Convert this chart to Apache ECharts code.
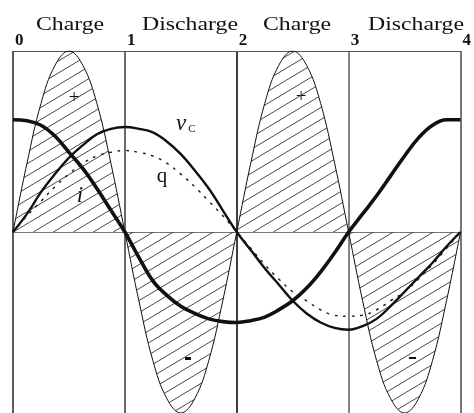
<!DOCTYPE html>
<html>
<head>
<meta charset="utf-8">
<script src="https://cdn.jsdelivr.net/npm/echarts@6/dist/echarts.min.js"></script>
<style>
  html, body { margin: 0; padding: 0; background: #fff; }
  #main { width: 474px; height: 413px; }
</style>
</head>
<body>
<div id="main"></div>
<script>
// time in quarter periods (0..4), sampled every 1/8
var xs = [0, 0.125, 0.25, 0.375, 0.5, 0.625, 0.75, 0.875,
          1, 1.125, 1.25, 1.375, 1.5, 1.625, 1.75, 1.875,
          2, 2.125, 2.25, 2.375, 2.5, 2.625, 2.75, 2.875,
          3, 3.125, 3.25, 3.375, 3.5, 3.625, 3.75, 3.875, 4];
// power p (hatched)
var pVals = [0, 0.38, 0.71, 0.92, 1, 0.92, 0.71, 0.38,
             0, -0.38, -0.71, -0.92, -1, -0.92, -0.71, -0.38,
             0, 0.38, 0.71, 0.92, 1, 0.92, 0.71, 0.38,
             0, -0.38, -0.71, -0.92, -1, -0.92, -0.71, -0.38, 0];
// current i (thick line)
var iVals = [0.62, 0.615, 0.59, 0.53, 0.44, 0.35, 0.24, 0.12,
             0, -0.14, -0.27, -0.35, -0.41, -0.45, -0.48, -0.495,
             -0.50, -0.49, -0.47, -0.43, -0.38, -0.31, -0.22, -0.115,
             0, 0.10, 0.20, 0.31, 0.42, 0.52, 0.59, 0.62, 0.62];
// capacitor voltage vC
var vVals = [0, 0.10, 0.22, 0.32, 0.41, 0.48, 0.54, 0.57,
             0.58, 0.57, 0.55, 0.50, 0.43, 0.34, 0.24, 0.12,
             0, -0.10, -0.20, -0.29, -0.38, -0.45, -0.50, -0.53,
             -0.54, -0.52, -0.48, -0.41, -0.33, -0.25, -0.17, -0.08, 0];
// charge q (dotted)
var qVals = [0, 0.09, 0.17, 0.25, 0.32, 0.38, 0.42, 0.44,
             0.45, 0.44, 0.42, 0.38, 0.32, 0.25, 0.17, 0.09,
             0, -0.09, -0.18, -0.26, -0.33, -0.38, -0.43, -0.46,
             -0.465, -0.46, -0.43, -0.38, -0.33, -0.26, -0.18, -0.09, 0];
var tickLabels = ['0', '1', '2', '3', '4'];
var phases = ['Charge', 'Discharge', 'Charge', 'Discharge'];

var pairs = function(vals) {
  return xs.map(function(x, k) { return [x, vals[k]]; });
};

// hatch tile
var hatch = document.createElement('canvas');
hatch.width = 20;
hatch.height = 12;
var hc = hatch.getContext('2d');
hc.strokeStyle = '#333';
hc.lineWidth = 0.9;
[-20, 0, 20].forEach(function(off) {
  hc.beginPath();
  hc.moveTo(off - 20, 24);
  hc.lineTo(off + 40, -12);
  hc.stroke();
});

var serif = '"Times New Roman", "Liberation Serif", Tinos, serif';
var phaseX = [70, 190, 297, 416];

var myChart = echarts.init(document.getElementById('main'));
var option = {
  animation: false,
  grid: { left: 13, right: 8, top: 51, bottom: 0 },
  xAxis: [{
    type: 'value', min: 0, max: 4, interval: 1,
    axisLine: { show: true, onZero: true, lineStyle: { color: '#777', width: 1 } },
    axisTick: { show: false },
    axisLabel: { show: false },
    splitLine: { show: true, lineStyle: { color: ['#333', '#444', '#111', '#666', '#555'], width: 1.6 } }
  }, {
    type: 'value', min: 0, max: 4, interval: 1, position: 'top',
    axisLine: { show: true, onZero: false, lineStyle: { color: '#555', width: 1 } },
    axisTick: { show: false },
    splitLine: { show: false },
    axisLabel: {
      show: true, showMinLabel: true, showMaxLabel: true,
      align: 'left', margin: 2,
      fontFamily: serif, fontWeight: 'bold', fontSize: 17, color: '#111',
      padding: [0, 0, 0, 2],
      formatter: function(v) { return tickLabels[Math.round(v)]; }
    }
  }],
  yAxis: {
    type: 'value', min: -1, max: 1,
    axisLine: { show: false }, axisTick: { show: false },
    axisLabel: { show: false }, splitLine: { show: false }
  },
  series: [{
    type: 'line', data: pairs(pVals), smooth: 0.4, showSymbol: false,
    lineStyle: { color: '#111', width: 1 },
    areaStyle: { color: { image: hatch, repeat: 'repeat' }, opacity: 1 }
  }, {
    type: 'line', data: pairs(qVals), smooth: 0.4, showSymbol: false,
    lineStyle: { color: '#222', width: 1.5, type: [1.5, 7], cap: 'round' }
  }, {
    type: 'line', data: pairs(vVals), smooth: 0.4, showSymbol: false,
    lineStyle: { color: '#111', width: 2.4 }
  }, {
    type: 'line', data: pairs(iVals), smooth: 0.4, showSymbol: false,
    lineStyle: { color: '#111', width: 3.6 }
  }],
  graphic: phases.map(function(t, k) {
    return {
      type: 'text', x: phaseX[k], y: 25, scaleX: 1.25, originX: 0,
      style: { text: t, font: '19px ' + serif, fill: '#111', align: 'center', verticalAlign: 'middle' }
    };
  }).concat([
    { type: 'text', x: 181, y: 124, style: { text: 'v', font: 'italic 23px ' + serif, fill: '#111', align: 'center', verticalAlign: 'middle' } },
    { type: 'text', x: 192, y: 129, style: { text: 'C', font: '11px ' + serif, fill: '#111', align: 'center', verticalAlign: 'middle' } },
    { type: 'text', x: 162, y: 176, style: { text: 'q', font: '21px ' + serif, fill: '#111', align: 'center', verticalAlign: 'middle' } },
    { type: 'text', x: 80, y: 196, style: { text: 'i', font: 'italic 23px ' + serif, fill: '#111', align: 'center', verticalAlign: 'middle' } },
    { type: 'text', x: 74, y: 98, style: { text: '+', font: '19px ' + serif, fill: '#111', align: 'center', verticalAlign: 'middle' } },
    { type: 'text', x: 301, y: 97, style: { text: '+', font: '19px ' + serif, fill: '#111', align: 'center', verticalAlign: 'middle' } },
    { type: 'rect', shape: { x: 185, y: 357, width: 6, height: 3 }, style: { fill: '#111' } },
    { type: 'rect', shape: { x: 409, y: 357, width: 7, height: 2 }, style: { fill: '#111' } }
  ])
};
myChart.setOption(option);
</script>
</body>
</html>
